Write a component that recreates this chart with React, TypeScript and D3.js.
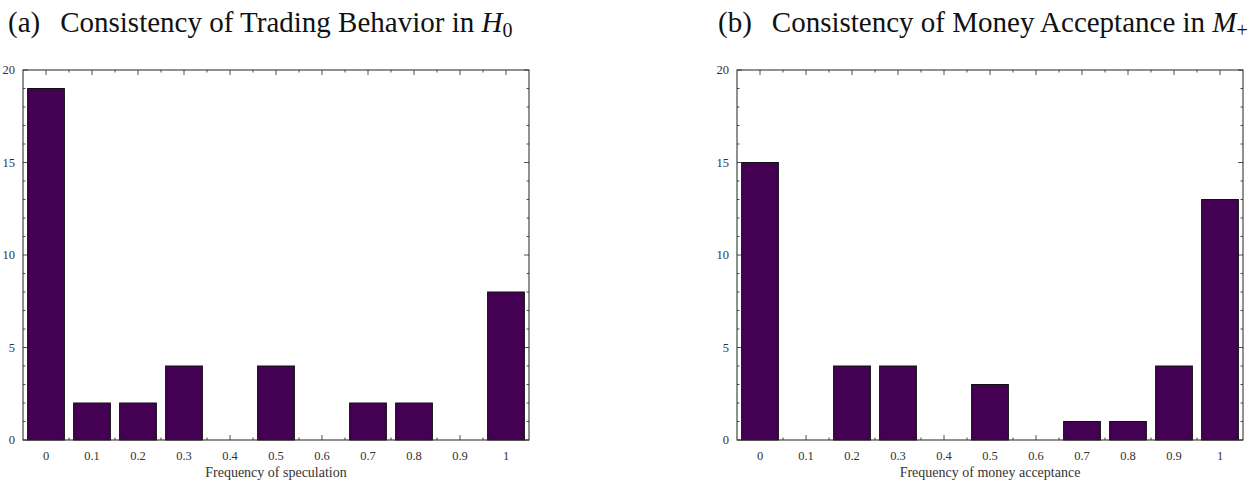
import React from "react";
import * as d3 from "d3";

const categories = ["0", "0.1", "0.2", "0.3", "0.4", "0.5", "0.6", "0.7", "0.8", "0.9", "1"];
const speculationCounts = [19, 2, 2, 4, 0, 4, 0, 2, 2, 0, 8];
const acceptanceCounts = [15, 0, 4, 4, 0, 3, 0, 1, 1, 4, 13];
const yMajorTicks = [0, 5, 10, 15, 20];
const yMinorTicks = d3.range(0, 21, 1);

const W = 1252;
const H = 489;
const FONT = "'Liberation Serif', 'DejaVu Serif', serif";
const BAR = "#440154";
const AXIS = "#222";

type PanelProps = {
  x0: number;
  x1: number;
  values: number[];
  xLabel: string;
};

const Panel = ({ x0, x1, values, xLabel }: PanelProps) => {
  const top = 70;
  const bottom = 440;

  const x = d3
    .scaleBand<string>()
    .domain(categories)
    .range([x0, x1])
    .paddingInner(0.2)
    .paddingOuter(0.1);

  const y = d3.scaleLinear().domain([0, 20]).range([bottom, top]);

  const step = x.step();
  const centers = categories.map((c) => (x(c) as number) + x.bandwidth() / 2);
  const bounds = d3.range(1, categories.length).map((i) => x0 + i * step);

  return (
    <g>
      {/* bars */}
      {values.map((v, i) => (
        <rect
          key={i}
          x={x(categories[i])}
          y={y(v)}
          width={x.bandwidth()}
          height={bottom - y(v)}
          fill={BAR}
          stroke="#111"
          strokeWidth={1}
        />
      ))}

      {/* frame */}
      <rect x={x0} y={top} width={x1 - x0} height={bottom - top} fill="none" stroke={AXIS} strokeWidth={1} />

      {/* y ticks, left and right, inward */}
      {yMinorTicks.map((t) => {
        const major = yMajorTicks.includes(t);
        const len = major ? 5 : 2.5;
        return (
          <g key={"y" + t}>
            <line x1={x0} x2={x0 + len} y1={y(t)} y2={y(t)} stroke={AXIS} strokeWidth={0.8} />
            <line x1={x1} x2={x1 - len} y1={y(t)} y2={y(t)} stroke={AXIS} strokeWidth={0.8} />
          </g>
        );
      })}
      {yMajorTicks.map((t) => (
        <text
          key={"yl" + t}
          x={x0 - 8}
          y={y(t)}
          dy="0.35em"
          textAnchor="end"
          fontFamily={FONT}
          fontSize={12.5}
          fill="#333"
        >
          {t}
        </text>
      ))}

      {/* x ticks, top and bottom, inward */}
      {centers.map((cx, i) => (
        <g key={"x" + i}>
          <line x1={cx} x2={cx} y1={bottom} y2={bottom - 5} stroke={AXIS} strokeWidth={0.8} />
          <line x1={cx} x2={cx} y1={top} y2={top + 5} stroke={AXIS} strokeWidth={0.8} />
          <text
            x={cx}
            y={460}
            textAnchor="middle"
            fontFamily={FONT}
            fontSize={12.5}
            fill="#333"
          >
            {categories[i]}
          </text>
        </g>
      ))}
      {bounds.map((bx, i) => (
        <g key={"b" + i}>
          <line x1={bx} x2={bx} y1={bottom} y2={bottom - 2.5} stroke={AXIS} strokeWidth={0.8} />
          <line x1={bx} x2={bx} y1={top} y2={top + 2.5} stroke={AXIS} strokeWidth={0.8} />
        </g>
      ))}

      <text
        x={(x0 + x1) / 2}
        y={477}
        textAnchor="middle"
        fontFamily={FONT}
        fontSize={14}
        fill="#333"
      >
        {xLabel}
      </text>
    </g>
  );
};

const App = () => {
  return (
    <svg
      width={W}
      height={H}
      style={{ position: "absolute", left: 0, top: 0, background: "#fff" }}
    >
      <text x={8} y={32} fontFamily={FONT} fontSize={29} fill="#111">
        (a)
        <tspan dx={20}>Consistency of Trading Behavior in </tspan>
        <tspan fontStyle="italic">H</tspan>
        <tspan fontSize={20} dy={5}>0</tspan>
      </text>
      <text x={718} y={32} fontFamily={FONT} fontSize={29} fill="#111">
        (b)
        <tspan dx={20}>Consistency of Money Acceptance in </tspan>
        <tspan fontStyle="italic">M</tspan>
        <tspan fontSize={20} dy={5}>+</tspan>
      </text>

      <Panel x0={23} x1={529} values={speculationCounts} xLabel="Frequency of speculation" />
      <Panel x0={737} x1={1243} values={acceptanceCounts} xLabel="Frequency of money acceptance" />
    </svg>
  );
};

export default App;
